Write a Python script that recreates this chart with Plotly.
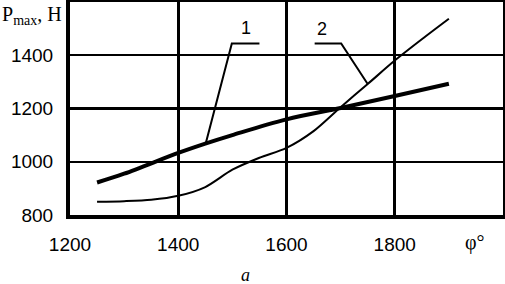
import plotly.graph_objects as go

# Curve 1 (thick)
phi1 = [1250, 1300, 1400, 1450, 1500, 1600, 1700, 1800, 1900]
p1 = [922, 955, 1033, 1068, 1100, 1159, 1202, 1247, 1293]

# Curve 2 (thin)
phi2 = [1250, 1300, 1350, 1400, 1450, 1500, 1550, 1600, 1650, 1700, 1750, 1800, 1850, 1900]
p2 = [850, 852, 857, 872, 905, 970, 1015, 1052, 1115, 1205, 1292, 1380, 1460, 1537]

# Leader lines for labels
lead1_x = [1451, 1499, 1550]
lead1_y = [1070, 1444, 1444]
lead2_x = [1652, 1701, 1750]
lead2_y = [1444, 1444, 1292]
labels = ["1", "2"]
label_x = [1526, 1666]
label_y = [1504, 1500]

x_ticks = [1200, 1400, 1600, 1800]
y_ticks = [800, 1000, 1200, 1400]

fig = go.Figure()
fig.add_trace(go.Scatter(x=phi2, y=p2, mode="lines", line=dict(color="black", width=2, shape="spline", smoothing=0.8), showlegend=False))
fig.add_trace(go.Scatter(x=phi1, y=p1, mode="lines", line=dict(color="black", width=4, shape="spline"), showlegend=False))
fig.add_trace(go.Scatter(x=lead1_x, y=lead1_y, mode="lines", line=dict(color="black", width=2), showlegend=False))
fig.add_trace(go.Scatter(x=lead2_x, y=lead2_y, mode="lines", line=dict(color="black", width=2), showlegend=False))

for t, lx, ly in zip(labels, label_x, label_y):
    fig.add_annotation(x=lx, y=ly, text=t, showarrow=False,
                       font=dict(family="Liberation Sans, Arial", size=18, color="black"))

# thicker 1200 grid line
fig.add_shape(type="line", xref="paper", x0=0, x1=1, yref="y", y0=1200, y1=1200,
              line=dict(color="black", width=3), layer="below")

fig.add_annotation(xref="paper", yref="paper", x=-0.1617, y=0.935, xanchor="left", yanchor="middle",
                   text="P<sub>max</sub>, H", showarrow=False,
                   font=dict(family="Liberation Serif, Times New Roman", size=20, color="black"))
fig.add_annotation(xref="paper", yref="paper", x=0.935, y=-0.131, xanchor="center", yanchor="middle",
                   text="φ°", showarrow=False,
                   font=dict(family="Liberation Serif, Times New Roman", size=20, color="black"))
fig.add_annotation(xref="paper", yref="paper", x=0.406, y=-0.282, xanchor="center", yanchor="middle",
                   text="<i>a</i>", showarrow=False,
                   font=dict(family="Liberation Serif, Times New Roman", size=18, color="black"))

fig.update_layout(
    width=505, height=284,
    margin=dict(l=70, r=2, t=2, b=69, autoexpand=False),
    paper_bgcolor="white", plot_bgcolor="white",
    font=dict(family="Liberation Sans, Arial", size=19, color="black"),
)
fig.update_xaxes(range=[1200, 2000], tickvals=x_ticks, ticktext=[str(v) for v in x_ticks],
                 showgrid=True, gridcolor="black", gridwidth=3, zeroline=False,
                 showline=True, linecolor="black", linewidth=4, mirror=True,
                 ticks="", ticklabelstandoff=9, automargin=False)
fig.update_yaxes(range=[800, 1600], tickvals=y_ticks, ticktext=[str(v) for v in y_ticks],
                 showgrid=True, gridcolor="black", gridwidth=2, zeroline=False,
                 showline=True, linecolor="black", linewidth=4, mirror=True,
                 ticks="", ticklabelstandoff=9, automargin=False)

fig.write_html("out.html", config={"displayModeBar": False},
               post_script="document.body.style.margin='0';document.body.style.padding='0';document.body.style.overflow='hidden';")
